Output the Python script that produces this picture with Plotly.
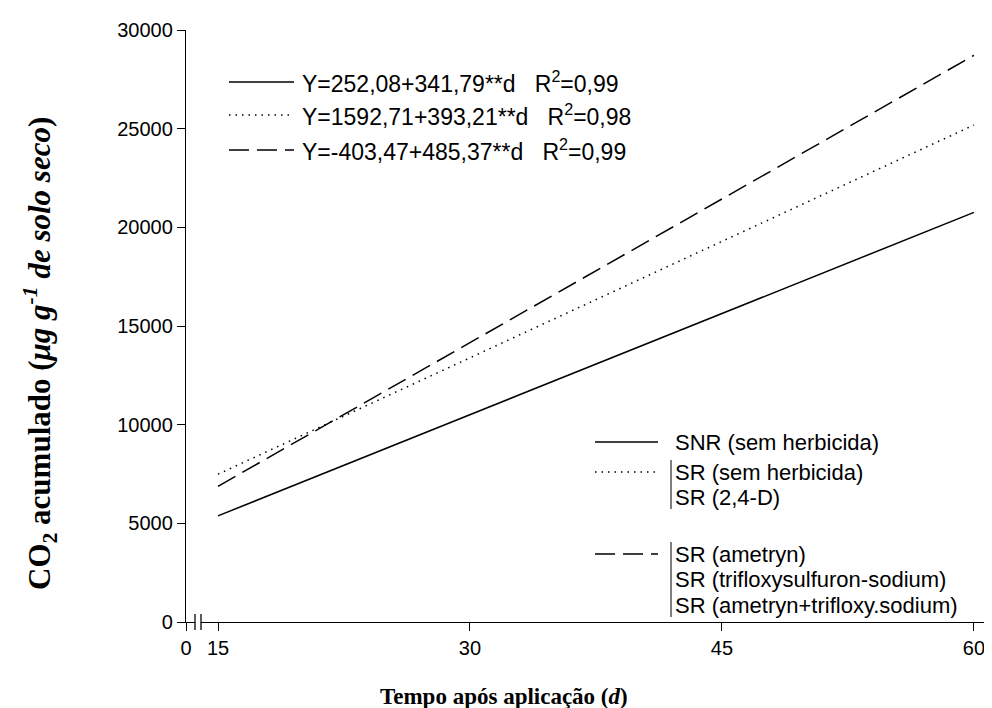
import plotly.graph_objects as go

# ---- data ----
days = [15, 60]
snr_sem_herbicida = [5379, 20760]          # Y=252,08+341,79**d
sr_grupo_24d = [7491, 25185]                # Y=1592,71+393,21**d
sr_grupo_ametryn = [6877, 28719]            # Y=-403,47+485,37**d

equations = [
    "Y=252,08+341,79**d\u00a0\u00a0\u00a0R<sup>2</sup>=0,99",
    "Y=1592,71+393,21**d\u00a0\u00a0\u00a0R<sup>2</sup>=0,98",
    "Y=-403,47+485,37**d\u00a0\u00a0\u00a0R<sup>2</sup>=0,99",
]
legend_groups = [
    ["SNR (sem herbicida)"],
    ["SR (sem herbicida)", "SR (2,4-D)"],
    ["SR (ametryn)", "SR (trifloxysulfuron-sodium)", "SR (ametryn+trifloxy.sodium)"],
]
y_ticks = [0, 5000, 10000, 15000, 20000, 25000, 30000]
x_ticks = [15, 30, 45, 60]
x_zero_pos = 13.095   # where the "0" of the broken axis sits
x_max = 61.43

W, H = 992, 708
ML, MR, MT, MB = 178, 2, 22, 94
PW, PH = W - ML - MR, H - MT - MB

def px(x):
    return (x - ML) / PW

def py(y):
    return (H - MB - y) / PH

def dx(v):
    return (v - x_zero_pos) / (x_max - x_zero_pos)

dashes = ["solid", "1.5px,5px", "20px,8px"]
series = [snr_sem_herbicida, sr_grupo_24d, sr_grupo_ametryn]

fig = go.Figure()
for s, d in zip(series, dashes):
    fig.add_trace(go.Scatter(x=days, y=s, mode="lines",
                             line=dict(color="black", width=1.5, dash=d),
                             showlegend=False, hoverinfo="skip"))

shapes = []
annotations = []
font_sans = "Liberation Sans, Arial, sans-serif"
font_serif = "Liberation Serif, Times New Roman, serif"
TXT = 22
EQ = 23
TICK = 20

# equation legend (top left)
eq_rows = [74, 107, 142]
for eq, d, yy in zip(equations, dashes, eq_rows):
    shapes.append(dict(type="line", xref="paper", yref="paper",
                       x0=px(221), x1=px(286), y0=py(yy), y1=py(yy),
                       line=dict(color="black", width=1.3, dash=d)))
    annotations.append(dict(x=px(292), y=py(yy), xref="paper", yref="paper",
                            text=eq, showarrow=False, xanchor="left", yanchor="middle",
                            font=dict(family=font_sans, size=EQ, color="black")))

# treatment legend (bottom right)
row_y = [[434], [464, 489], [546, 571, 597]]
for grp, ys, d in zip(legend_groups, row_y, dashes):
    shapes.append(dict(type="line", xref="paper", yref="paper",
                       x0=px(587), x1=px(650), y0=py(ys[0]), y1=py(ys[0]),
                       line=dict(color="black", width=1.3, dash=d)))
    if len(grp) > 1:
        shapes.append(dict(type="line", xref="paper", yref="paper",
                           x0=px(663), x1=px(663), y0=py(ys[0] - 12), y1=py(ys[-1] + 12),
                           line=dict(color="black", width=1)))
    for label, yy in zip(grp, ys):
        annotations.append(dict(x=px(665), y=py(yy), xref="paper", yref="paper",
                                text=label, showarrow=False, xanchor="left", yanchor="middle",
                                font=dict(family=font_sans, size=TXT, color="black")))

# axis break marks (paper refs so they are not clipped)
for xb in [x_zero_pos + 9 / 16.8, x_zero_pos + 15 / 16.8]:
    shapes.append(dict(type="line", xref="paper", yref="paper", ysizemode="pixel", yanchor=0,
                       x0=dx(xb), x1=dx(xb), y0=-8, y1=8, line=dict(color="black", width=1.3)))
shapes.append(dict(type="rect", xref="paper", yref="paper", ysizemode="pixel", yanchor=0,
                   x0=dx(x_zero_pos + 9.8 / 16.8), x1=dx(x_zero_pos + 14.2 / 16.8), y0=-1.5, y1=1.5,
                   line=dict(width=0), fillcolor="white"))

# axis titles
annotations.append(dict(x=px(496), y=py(688), xref="paper", yref="paper",
                        text="<b>Tempo após aplicação (<i>d</i>)</b>", showarrow=False,
                        xanchor="center", yanchor="middle",
                        font=dict(family=font_serif, size=23, color="black")))
annotations.append(dict(x=px(32), y=py(346), xref="paper", yref="paper",
                        text="<b>CO<sub>2</sub> acumulado (<i>μg g<sup>-1</sup> de solo seco</i>)</b>",
                        showarrow=False, textangle=-90, xanchor="center", yanchor="middle",
                        font=dict(family=font_serif, size=31, color="black")))

fig.update_layout(
    width=W, height=H,
    margin=dict(l=ML, r=MR, t=MT, b=MB, pad=0),
    paper_bgcolor="white", plot_bgcolor="white",
    shapes=shapes, annotations=annotations,
    xaxis=dict(range=[x_zero_pos, x_max],
               tickvals=[x_zero_pos] + x_ticks,
               ticktext=["0"] + [str(v) for v in x_ticks],
               showline=True, linecolor="black", linewidth=1.3,
               ticks="outside", ticklen=8, tickcolor="black", tickwidth=1.3,
               showgrid=False, zeroline=False,
               tickfont=dict(family=font_sans, size=TICK, color="black")),
    yaxis=dict(range=[0, 30000], tickvals=y_ticks, tickformat="d",
               showline=True, linecolor="black", linewidth=1.3,
               ticks="outside", ticklen=8, tickcolor="black", tickwidth=1.3,
               showgrid=False, zeroline=False,
               tickfont=dict(family=font_sans, size=TICK, color="black")),
)

fig.write_html("out.html")
